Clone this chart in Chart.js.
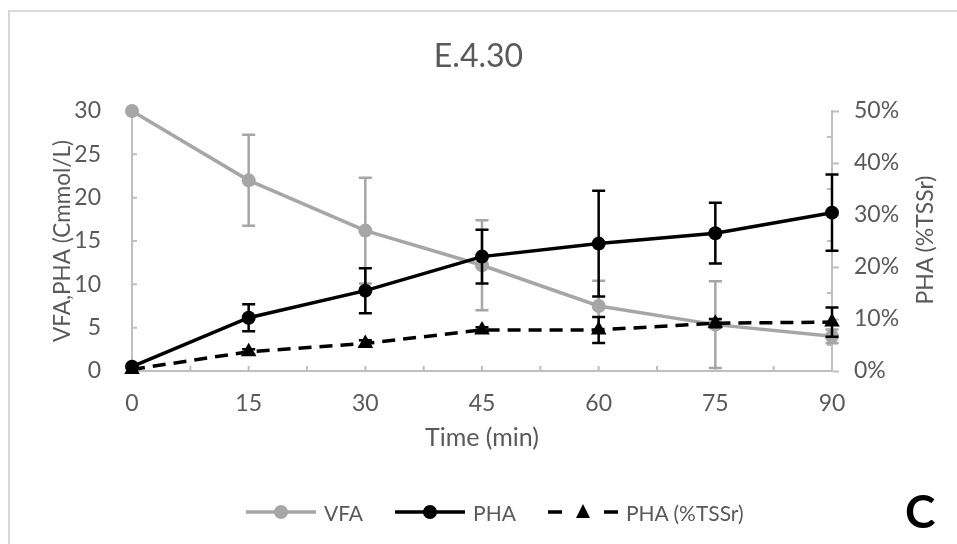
<!DOCTYPE html>
<html><head><meta charset="utf-8">
<script src="https://cdn.jsdelivr.net/npm/chart.js@4/dist/chart.umd.min.js"></script>
<style>
html,body{margin:0;padding:0;background:#fff;}
#wrap{position:relative;width:957px;height:544px;overflow:hidden;font-family:Lato,"Open Sans",sans-serif;background:#fff;}
#frame{position:absolute;left:8px;top:10px;width:2000px;height:2000px;border-left:2px solid #d9d9d9;border-top:2px solid #d9d9d9;}
canvas{position:absolute;left:0;top:0;}
#rtitle{position:absolute;left:924px;top:240px;transform:translate(-50%,-50%) rotate(-90deg);white-space:nowrap;font-size:23px;color:#595959;}
#legend{position:absolute;left:246px;top:499px;height:26px;display:flex;align-items:center;font-size:21px;color:#595959;}
.item{display:flex;align-items:center;margin-right:32px;}
.item svg{margin-right:8px;}
#tag{position:absolute;left:905px;top:488px;font-size:46px;font-weight:bold;color:#000;line-height:1;}
</style></head>
<body>
<div id="wrap">
  <div id="frame"></div>
  <canvas id="c" width="957" height="544"></canvas>
  <div id="rtitle">PHA (%TSSr)</div>
  <div id="legend"></div>
  <div id="tag">C</div>
</div>
<script>
const times = [0, 15, 30, 45, 60, 75, 90];
const vfa = [30, 22, 16.2, 12.2, 7.5, 5.35, 4.0];
const vfaErr = [0, 5.25, 6.1, 5.2, 2.9, 5.0, 0.8];
const pha = [0.5, 6.15, 9.27, 13.2, 14.7, 15.9, 18.27];
const phaErr = [0, 1.55, 2.6, 3.1, 6.1, 3.5, 4.4];
const phaTss = [0.3, 3.7, 5.3, 7.9, 7.9, 9.2, 9.4];
const phaTssErr = [0, 0.5, 0.6, 0.5, 2.5, 0.8, 2.8];
const seriesNames = ['VFA', 'PHA', 'PHA (%TSSr)'];
const chartTitle = 'E.4.30';
const xTitle = 'Time (min)';
const yLeftTitle = 'VFA,PHA (Cmmol/L)';

const GRAY = '#a6a6a6', AXIS = '#bfbfbf', TXT = '#595959';
const FONT = 'Lato, "Open Sans", sans-serif';

function pts(ys){ return times.map((t,i)=>({x:t, y:ys[i]})); }

const errorBars = {
  id:'errorBars',
  beforeDatasetDraw(chart, args){
    const ds = chart.data.datasets[args.index];
    if(!ds.errors) return;
    const meta = args.meta;
    const xs = chart.scales[meta.xAxisID], ys = chart.scales[meta.yAxisID];
    const ctx = chart.ctx;
    ctx.save();
    ctx.strokeStyle = ds.errColor; ctx.lineWidth = 2.5;
    ds.data.forEach((p,i)=>{
      const e = ds.errors[i]; if(!e) return;
      const x = xs.getPixelForValue(p.x);
      const y1 = ys.getPixelForValue(p.y + e), y2 = ys.getPixelForValue(p.y - e);
      ctx.beginPath();
      ctx.moveTo(x,y1); ctx.lineTo(x,y2);
      ctx.moveTo(x-6.5,y1); ctx.lineTo(x+6.5,y1);
      ctx.moveTo(x-6.5,y2); ctx.lineTo(x+6.5,y2);
      ctx.stroke();
    });
    ctx.restore();
  }
};

const innerTicks = {
  id:'innerTicks',
  beforeDatasetsDraw(chart){
    const {ctx, chartArea:a} = chart;
    const x = chart.scales.x, yl = chart.scales.y, yr = chart.scales.y2;
    ctx.save(); ctx.strokeStyle = AXIS; ctx.lineWidth = 2; ctx.beginPath();
    for(let v=7.5; v<=90; v+=7.5){ const px=x.getPixelForValue(v); ctx.moveTo(px,a.bottom); ctx.lineTo(px,a.bottom-5); }
    for(let v=5; v<=30; v+=5){ const py=yl.getPixelForValue(v); ctx.moveTo(a.left,py); ctx.lineTo(a.left+5,py); }
    for(let v=5; v<=45; v+=10){ const py=yr.getPixelForValue(v); ctx.moveTo(a.right,py); ctx.lineTo(a.right-5,py); }
    ctx.stroke(); ctx.restore();
  }
};

new Chart(document.getElementById('c'), {
  type:'line',
  data:{ datasets:[
    {label:seriesNames[0], data:pts(vfa), errors:vfaErr, errColor:GRAY, yAxisID:'y', order:3,
     borderColor:GRAY, backgroundColor:GRAY, borderWidth:3.5, pointRadius:7, pointStyle:'circle', pointBorderWidth:0, clip:false},
    {label:seriesNames[1], data:pts(pha), errors:phaErr, errColor:'#000', yAxisID:'y', order:2,
     borderColor:'#000', backgroundColor:'#000', borderWidth:3.5, pointRadius:7, pointStyle:'circle', pointBorderWidth:0, clip:false},
    {label:seriesNames[2], data:pts(phaTss), errors:phaTssErr, errColor:'#000', yAxisID:'y2', order:1,
     borderColor:'#000', backgroundColor:'#000', borderWidth:3.5, borderDash:[13,8], pointRadius:9, pointStyle:'triangle', pointBorderWidth:0, clip:false}
  ]},
  options:{
    responsive:false, animation:false, devicePixelRatio:1,
    layout:{padding:{left:0,right:0,top:0,bottom:91}},
    plugins:{
      legend:{display:false}, tooltip:{enabled:false},
      title:{display:true, text:chartTitle, color:TXT, font:{family:FONT, size:32, weight:'normal'}, padding:{top:37,bottom:35.6}}
    },
    scales:{
      x:{type:'linear', min:0, max:90, afterFit(s){s.height=82;},
        afterBuildTicks(s){ s.ticks = times.map(v=>({value:v})); },
        grid:{display:false}, border:{display:true,color:AXIS,width:2},
        ticks:{color:TXT, font:{family:FONT,size:23}, padding:11},
        title:{display:true, text:xTitle, color:TXT, font:{family:FONT,size:25}, padding:{top:0,bottom:0}}},
      y:{position:'left', min:0, max:30, afterFit(s){s.width=132;},
        grid:{display:false}, border:{display:true,color:AXIS,width:2},
        ticks:{stepSize:5, color:TXT, font:{family:FONT,size:23}, padding:23},
        title:{display:true, text:yLeftTitle, color:TXT, font:{family:FONT,size:22.5}, padding:{top:49,bottom:0}}},
      y2:{position:'right', min:0, max:50, afterFit(s){s.width=125;},
        grid:{display:true, drawOnChartArea:false, drawTicks:true, tickLength:7, tickColor:AXIS, tickWidth:2, color:AXIS},
        border:{display:true,color:AXIS,width:2},
        ticks:{stepSize:10, color:TXT, font:{family:FONT,size:23}, padding:15, callback:v=>v+'%'}}
    }
  },
  plugins:[errorBars, innerTicks]
});

function icon(color, dashed, tri){
  const mk = tri ? '<polygon points="35,2 42,16 28,16" fill="'+color+'"/>' : '<circle cx="35" cy="10" r="7" fill="'+color+'"/>';
  const ln = dashed ? '<line x1="0" y1="10" x2="14" y2="10" stroke="'+color+'" stroke-width="3.5"/><line x1="56" y1="10" x2="70" y2="10" stroke="'+color+'" stroke-width="3.5"/>'
                    : '<line x1="0" y1="10" x2="70" y2="10" stroke="'+color+'" stroke-width="3.5"/>';
  return '<svg width="70" height="20" viewBox="0 0 70 20">'+ln+mk+'</svg>';
}
const legendSpecs = [[GRAY,false,false],['#000',false,false],['#000',true,true]];
document.getElementById('legend').innerHTML = seriesNames.map((n,i)=>
  '<div class="item">'+icon(...legendSpecs[i])+'<span>'+n+'</span></div>').join('');
</script>
</body></html>
